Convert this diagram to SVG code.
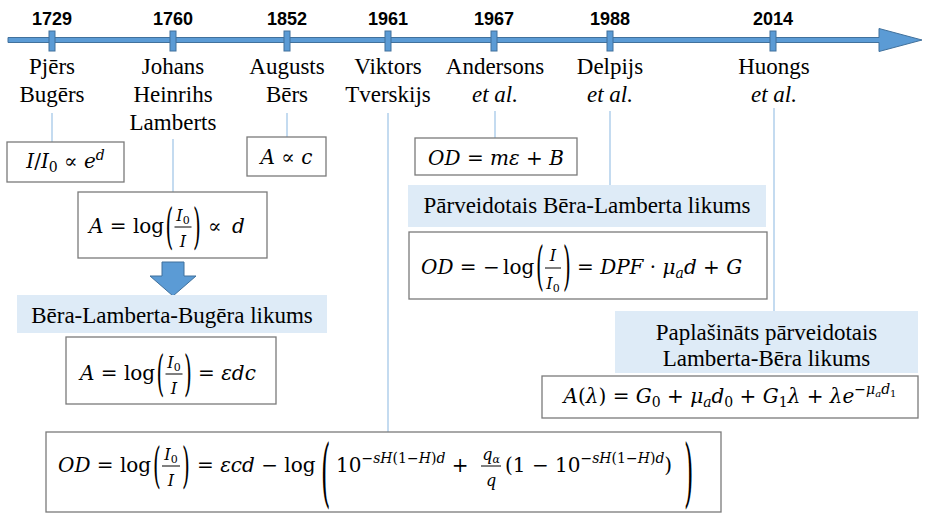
<svg xmlns="http://www.w3.org/2000/svg" width="925" height="515" viewBox="0 0 925 515">
<style>
.yr{font-family:Liberation Sans,Arimo,Arial,sans-serif;font-weight:bold;font-size:18px;text-anchor:middle;fill:#000}
.nm{font-family:Liberation Serif,Tinos,Times New Roman,DejaVu Serif,serif;font-size:23px;text-anchor:middle;fill:#000}
.it{font-style:italic}
.band{fill:#deebf7}
.bx{fill:#fff;stroke:#7a7a7a;stroke-width:1.3}
.m{font-family:DejaVu Serif,Liberation Serif,Tinos,serif;font-size:20px;fill:#000}
.big{font-size:24px}
.i{font-style:italic}
.fr{font-size:16px}
.bar{stroke:#000;stroke-width:1}
.conn{stroke:#9dc3e6;stroke-width:1.2;fill:none}
.tl{fill:#5b9bd5;stroke:#41719c;stroke-width:1}
</style>

<g id="timeline">
  <path class="tl" d="M8,37.5 H879 V28.5 L922,40 L879,51.5 V42.5 H8 Z"/>
  <rect class="tl" x="49" y="31" width="6" height="20"/>
  <rect class="tl" x="170" y="31" width="6" height="20"/>
  <rect class="tl" x="284" y="31" width="6" height="20"/>
  <rect class="tl" x="385" y="31" width="6" height="20"/>
  <rect class="tl" x="491" y="31" width="6" height="20"/>
  <rect class="tl" x="607" y="31" width="6" height="20"/>
  <rect class="tl" x="770" y="31" width="6" height="20"/>
</g>

<g id="ev1729"><text class="yr" x="52" y="25">1729</text><text class="nm" x="52" y="74">Pjērs</text><text class="nm" x="52" y="102">Bugērs</text></g>
<g id="ev1760"><text class="yr" x="173" y="25">1760</text><text class="nm" x="173" y="74">Johans</text><text class="nm" x="173" y="102">Heinrihs</text><text class="nm" x="173" y="130">Lamberts</text></g>
<g id="ev1852"><text class="yr" x="287" y="25">1852</text><text class="nm" x="287" y="74">Augusts</text><text class="nm" x="287" y="102">Bērs</text></g>
<g id="ev1961"><text class="yr" x="388" y="25">1961</text><text class="nm" x="388" y="74">Viktors</text><text class="nm" x="388" y="102">Tverskijs</text></g>
<g id="ev1967"><text class="yr" x="494" y="25">1967</text><text class="nm" x="495" y="74">Andersons</text><text class="nm it" x="495" y="102">et al.</text></g>
<g id="ev1988"><text class="yr" x="610" y="25">1988</text><text class="nm" x="610" y="74">Delpijs</text><text class="nm it" x="610" y="102">et al.</text></g>
<g id="ev2014"><text class="yr" x="773" y="25">2014</text><text class="nm" x="774" y="74">Huongs</text><text class="nm it" x="774" y="102">et al.</text></g>

<g id="connectors">
  <path class="conn" d="M52,113 V142 M173,139 V192 M287,113 V137 M388,113 V432 M495,111 V138 M610,111 V185 M774,108 V311"/>
  <path d="M162,262 H184 V276 H196 L173,296 L150,276 H162 Z" fill="#5b9bd5" stroke="#41719c" stroke-width="1"/>
</g>

<g id="eq-bouguer">
  <rect class="bx" x="7" y="142" width="117" height="40"/>
  <text class="m" x="65.5" y="168" text-anchor="middle"><tspan class="i">I</tspan>/<tspan class="i">I</tspan><tspan dy="4" font-size="14">0</tspan><tspan dy="-4"> ∝ </tspan><tspan class="i">e</tspan><tspan class="i" dy="-8" font-size="14">d</tspan></text>
</g>

<g id="eq-beer">
  <rect class="bx" x="247" y="137" width="79" height="39"/>
  <text class="m" x="286.5" y="164" text-anchor="middle"><tspan class="i">A</tspan> ∝ <tspan class="i">c</tspan></text>
</g>

<g id="eq-lambert">
  <rect class="bx" x="78" y="192" width="189" height="66"/>
  <text class="m" x="89" y="233"><tspan class="i">A</tspan> = log</text>
  <text class="m" transform="translate(165.5,227) scale(1,2.47)" y="6.3">(</text>
  <text class="m fr" x="183" y="221" text-anchor="middle"><tspan class="i">I</tspan><tspan dy="3" font-size="11">0</tspan></text>
  <line class="bar" x1="174.5" y1="227" x2="191.5" y2="227"/>
  <text class="m fr i" x="183" y="247" text-anchor="middle">I</text>
  <text class="m" transform="translate(193,227) scale(1,2.47)" y="6.3">)</text>
  <text class="m" x="208" y="233">∝</text>
  <text class="m i" x="232" y="233">d</text>
</g>

<g id="band-bllb">
  <rect class="band" x="17" y="295" width="310" height="38"/>
  <text class="nm" x="172" y="323">Bēra-Lamberta-Bugēra likums</text>
</g>

<g id="eq-bllb">
  <rect class="bx" x="66" y="337" width="210" height="67"/>
  <text class="m" x="80" y="380"><tspan class="i">A</tspan> = log</text>
  <text class="m" transform="translate(156.5,374) scale(1,2.47)" y="6.3">(</text>
  <text class="m fr" x="174" y="368" text-anchor="middle"><tspan class="i">I</tspan><tspan dy="3" font-size="11">0</tspan></text>
  <line class="bar" x1="165.5" y1="374" x2="182.5" y2="374"/>
  <text class="m fr i" x="174" y="394" text-anchor="middle">I</text>
  <text class="m" transform="translate(184,374) scale(1,2.47)" y="6.3">)</text>
  <text class="m" x="198" y="380">= <tspan class="i">εdc</tspan></text>
</g>

<g id="eq-anderson">
  <rect class="bx" x="415" y="138" width="162" height="37"/>
  <text class="m" x="496" y="165" text-anchor="middle"><tspan class="i">OD</tspan> = <tspan class="i">mε</tspan> + <tspan class="i">B</tspan></text>
</g>

<g id="band-mbll">
  <rect class="band" x="408" y="185" width="358" height="42"/>
  <text class="nm" x="587" y="213">Pārveidotais Bēra-Lamberta likums</text>
</g>

<g id="eq-delpy">
  <rect class="bx" x="409" y="232" width="358" height="67"/>
  <text class="m" x="421" y="274"><tspan class="i">OD</tspan> = −</text>
  <text class="m" x="503" y="274">log</text>
  <text class="m" transform="translate(536,268) scale(1,2.6)" y="6.3">(</text>
  <text class="m fr i" x="553" y="261" text-anchor="middle">I</text>
  <line class="bar" x1="545" y1="268" x2="561" y2="268"/>
  <text class="m fr" x="553" y="289" text-anchor="middle"><tspan class="i">I</tspan><tspan dy="3" font-size="11">0</tspan></text>
  <text class="m" transform="translate(563,268) scale(1,2.6)" y="6.3">)</text>
  <text class="m" x="577" y="274">= <tspan class="i">DPF</tspan> · <tspan class="i">μ</tspan><tspan class="i" dy="4" font-size="14">a</tspan><tspan class="i" dy="-4">d</tspan> + <tspan class="i">G</tspan></text>
</g>

<g id="band-embll">
  <rect class="band" x="615" y="311" width="303" height="62"/>
  <text class="nm" x="766.5" y="340">Paplašināts pārveidotais</text>
  <text class="nm" x="766.5" y="366">Lamberta-Bēra likums</text>
</g>

<g id="eq-huong">
  <rect class="bx" x="542" y="376" width="376" height="42"/>
  <text class="m" x="730" y="403" text-anchor="middle"><tspan class="i">A</tspan>(<tspan class="i">λ</tspan>) = <tspan class="i">G</tspan><tspan dy="4" font-size="14">0</tspan><tspan dy="-4"> + </tspan><tspan class="i">μ</tspan><tspan class="i" dy="4" font-size="14">a</tspan><tspan class="i" dy="-4">d</tspan><tspan dy="4" font-size="14">0</tspan><tspan dy="-4"> + </tspan><tspan class="i">G</tspan><tspan dy="4" font-size="14">1</tspan><tspan class="i" dy="-4">λ</tspan> + <tspan class="i">λe</tspan><tspan dy="-9" font-size="14">−</tspan><tspan class="i" font-size="14">μ</tspan><tspan class="i" dy="3" font-size="10">a</tspan><tspan class="i" dy="-3" font-size="14">d</tspan><tspan dy="3" font-size="10">1</tspan></text>
</g>

<g id="eq-twersky">
  <rect class="bx" x="46" y="432" width="675" height="80"/>
  <text class="m" x="58" y="472"><tspan class="i">OD</tspan> = log</text>
  <text class="m" transform="translate(153,466) scale(1,2.47)" y="6.3">(</text>
  <text class="m fr" x="171" y="460" text-anchor="middle"><tspan class="i">I</tspan><tspan dy="3" font-size="11">0</tspan></text>
  <line class="bar" x1="162" y1="466" x2="180" y2="466"/>
  <text class="m fr i" x="171" y="486" text-anchor="middle">I</text>
  <text class="m" transform="translate(182,466) scale(1,2.47)" y="6.3">)</text>
  <text class="m" x="197" y="472">= <tspan class="i">εcd</tspan> − log</text>
  <text class="m big" transform="translate(321,474.5) scale(1,3.1)" y="7.5">(</text>
  <text class="m" x="336" y="472">10<tspan dy="-9" font-size="14">−</tspan><tspan class="i" font-size="14">sH</tspan><tspan font-size="14">(1−</tspan><tspan class="i" font-size="14">H</tspan><tspan font-size="14">)</tspan><tspan class="i" font-size="14">d</tspan><tspan dy="9"> + </tspan></text>
  <text class="m fr" x="491" y="460" text-anchor="middle"><tspan class="i">q</tspan><tspan class="i" dy="3" font-size="11">α</tspan></text>
  <line class="bar" x1="481" y1="466" x2="501" y2="466"/>
  <text class="m fr i" x="491" y="486" text-anchor="middle">q</text>
  <text class="m" x="505" y="472">(1 − 10<tspan dy="-9" font-size="14">−</tspan><tspan class="i" font-size="14">sH</tspan><tspan font-size="14">(1−</tspan><tspan class="i" font-size="14">H</tspan><tspan font-size="14">)</tspan><tspan class="i" font-size="14">d</tspan><tspan dy="9">)</tspan></text>
  <text class="m big" transform="translate(684,474.5) scale(1,3.1)" y="7.5">)</text>
</g>
</svg>
